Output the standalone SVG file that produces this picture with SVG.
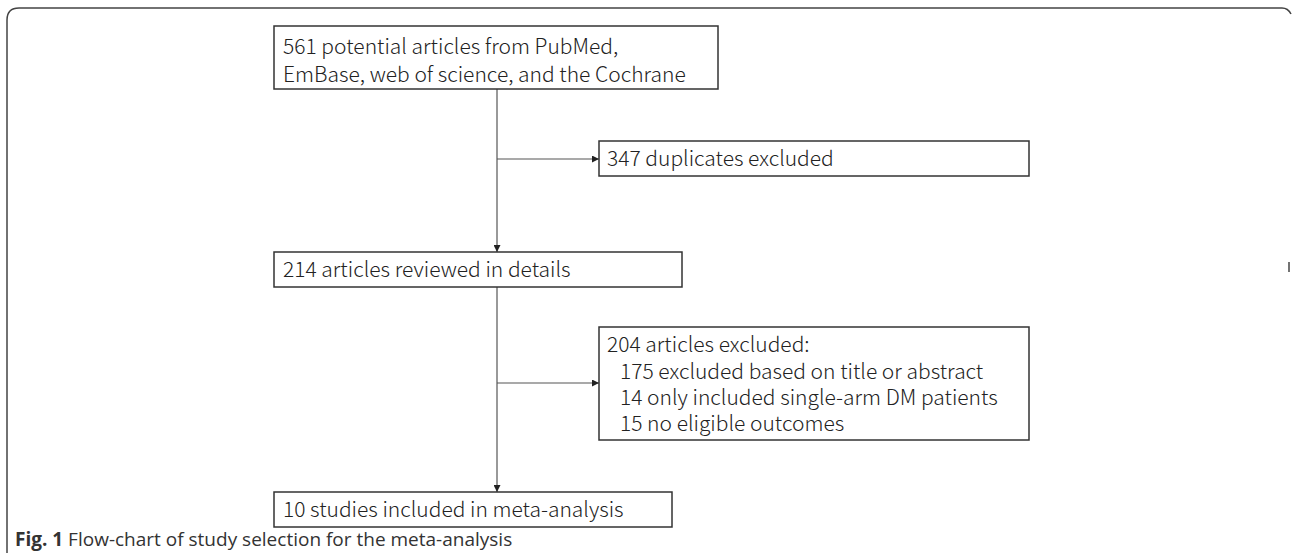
<svg xmlns="http://www.w3.org/2000/svg" width="1292" height="553" viewBox="0 0 1292 553">
<style>
.box{fill:#fff;stroke:#333;stroke-width:1.5}
.t{font-family:"Noto Sans CJK SC","Noto Sans",sans-serif;font-size:21px;font-weight:300;fill:#222}
.c{fill:none;stroke:#555;stroke-width:1.2}
.frame{fill:none;stroke:#444;stroke-width:1.5}
.cap{font-family:"Open Sans","Liberation Sans",sans-serif;font-size:19px;fill:#333}
</style>
<defs>
<marker id="ah" viewBox="0 0 10 10" refX="10" refY="5" markerWidth="7" markerHeight="7" markerUnits="userSpaceOnUse" orient="auto">
<path d="M0,0 L10,5 L0,10 z" fill="#222"/>
</marker>
</defs>
<path class="frame" d="M7,553 V20 Q7,8 19,8 H1282 Q1288,8 1291,14"/>
<path class="frame" d="M1289,262 V272"/>
<g id="connectors">
<line class="c" x1="497" y1="89" x2="497" y2="252" marker-end="url(#ah)"/>
<line class="c" x1="497" y1="159" x2="599" y2="159" marker-end="url(#ah)"/>
<line class="c" x1="497" y1="287" x2="497" y2="492" marker-end="url(#ah)"/>
<line class="c" x1="497" y1="383" x2="599" y2="383" marker-end="url(#ah)"/>
</g>
<g id="n1">
<rect class="box" x="274" y="26" width="444" height="63"/>
<text class="t" x="283" y="54">561 potential articles from PubMed,</text>
<text class="t" x="283" y="82">EmBase, web of science, and the Cochrane</text>
</g>
<g id="n2">
<rect class="box" x="599" y="141" width="430" height="35"/>
<text class="t" x="607" y="166">347 duplicates excluded</text>
</g>
<g id="n3">
<rect class="box" x="274" y="252" width="408" height="35"/>
<text class="t" x="283" y="277">214 articles reviewed in details</text>
</g>
<g id="n4">
<rect class="box" x="599" y="327" width="430" height="113"/>
<text class="t" x="607" y="352">204 articles excluded:</text>
<text class="t" x="620" y="379">175 excluded based on title or abstract</text>
<text class="t" x="620" y="405">14 only included single-arm DM patients</text>
<text class="t" x="620" y="431">15 no eligible outcomes</text>
</g>
<g id="n5">
<rect class="box" x="274" y="492" width="398" height="35"/>
<text class="t" x="283" y="517">10 studies included in meta-analysis</text>
</g>
<text class="cap" x="15" y="546"><tspan font-weight="bold">Fig. 1</tspan> Flow-chart of study selection for the meta-analysis</text>
</svg>
